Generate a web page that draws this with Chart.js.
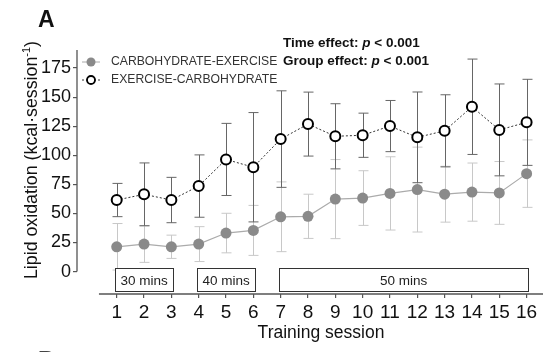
<!DOCTYPE html>
<html>
<head>
<meta charset="utf-8">
<script src="https://cdn.jsdelivr.net/npm/chart.js@4.4.1/dist/chart.umd.min.js"></script>
<style>
  html, body { margin: 0; padding: 0; background: #fff; }
  #wrap { width: 550px; height: 352px; }
</style>
</head>
<body>
<div id="wrap"><canvas id="lipidChart" width="550" height="352" aria-label="Lipid oxidation chart"></canvas></div>
<script>
// sessions and values
const sessions = [1, 2, 3, 4, 5, 6, 7, 8, 9, 10, 11, 12, 13, 14, 15, 16];
const carbExMean = [21.3, 23.6, 21.3, 23.6, 33.1, 35.4, 47.1, 47.5, 62.3, 63.2, 67.2, 70.5, 66.5, 68.3, 67.6, 84.2];
const carbExErr = [20, 15.7, 10, 15, 17, 21.5, 30, 19, 34, 23.5, 31.5, 36.5, 24, 25, 27, 29];
const exCarbMean = [61.5, 66.4, 61.5, 73.5, 96.4, 89.7, 113.9, 126.8, 116.3, 117.2, 125.1, 115.4, 121, 141.7, 121.8, 128.3];
const exCarbErr = [14.3, 27, 19.5, 26.8, 31, 47, 41.5, 27.5, 28, 19, 22, 39, 31, 41, 39.5, 37];
const yTicks = [0, 25, 50, 75, 100, 125, 150, 175];

// training blocks (session ranges)
const phaseLabels = ['30 mins', '40 mins', '50 mins'];
const phaseStart = [1, 4, 7];
const phaseEnd = [3, 6, 16];

const FONT = "'Liberation Sans', Arial, sans-serif";

const extrasPlugin = {
  id: 'extras',
  beforeDatasetsDraw(chart) {
    const ctx = chart.ctx;
    const xs = chart.scales.x, ys = chart.scales.y;
    const drawBars = (means, errs, color) => {
      ctx.save();
      ctx.strokeStyle = color;
      ctx.lineWidth = 1;
      means.forEach((m, i) => {
        const px = Math.round(xs.getPixelForValue(sessions[i])) + 0.5;
        const top = ys.getPixelForValue(m + errs[i]);
        const bot = ys.getPixelForValue(m - errs[i]);
        ctx.beginPath();
        ctx.moveTo(px, top); ctx.lineTo(px, bot);
        ctx.moveTo(px - 5, top); ctx.lineTo(px + 5, top);
        ctx.moveTo(px - 5, bot); ctx.lineTo(px + 5, bot);
        ctx.stroke();
      });
      ctx.restore();
    };
    drawBars(carbExMean, carbExErr, '#c8c8c8');
    drawBars(exCarbMean, exCarbErr, '#666');
  },
  afterDraw(chart) {
    const ctx = chart.ctx;
    const xs = chart.scales.x, ys = chart.scales.y;
    const area = chart.chartArea;
    ctx.save();

    // axis lines (Prism style, offset)
    ctx.strokeStyle = '#555';
    ctx.lineWidth = 1.3;
    ctx.beginPath();
    ctx.moveTo(area.left, ys.getPixelForValue(0));
    ctx.lineTo(area.left, area.top);
    ctx.moveTo(xs.getPixelForValue(0.35), area.bottom);
    ctx.lineTo(area.right, area.bottom);
    ctx.stroke();

    // phase boxes
    ctx.lineWidth = 1;
    ctx.strokeStyle = '#333';
    ctx.font = '13.5px ' + FONT;
    ctx.textAlign = 'center';
    ctx.textBaseline = 'middle';
    const bTop = ys.getPixelForValue(2.7), bBot = ys.getPixelForValue(-17.4);
    phaseLabels.forEach((lab, i) => {
      const l = xs.getPixelForValue(phaseStart[i]) - 1.5;
      const r = xs.getPixelForValue(phaseEnd[i]) + 1.5;
      ctx.fillStyle = '#fff';
      ctx.fillRect(l, bTop, r - l, bBot - bTop);
      ctx.strokeRect(Math.round(l) + 0.5, Math.round(bTop) + 0.5, Math.round(r - l), Math.round(bBot - bTop));
      ctx.fillStyle = '#222';
      ctx.fillText(lab, (l + r) / 2, (bTop + bBot) / 2 + 1);
    });

    // legend
    ctx.textAlign = 'left';
    ctx.font = '12.2px ' + FONT;
    ctx.strokeStyle = '#aaa';
    ctx.lineWidth = 1;
    ctx.beginPath(); ctx.moveTo(82, 62); ctx.lineTo(100, 62); ctx.stroke();
    ctx.fillStyle = '#8a8a8a';
    ctx.beginPath(); ctx.arc(91, 62, 4.5, 0, Math.PI * 2); ctx.fill();
    ctx.strokeStyle = '#333';
    ctx.setLineDash([2, 2]);
    ctx.beginPath(); ctx.moveTo(82, 80); ctx.lineTo(100, 80); ctx.stroke();
    ctx.setLineDash([]);
    ctx.fillStyle = '#fff';
    ctx.strokeStyle = '#000';
    ctx.lineWidth = 1.8;
    ctx.beginPath(); ctx.arc(91, 80, 4, 0, Math.PI * 2); ctx.fill(); ctx.stroke();
    ctx.fillStyle = '#333';
    ctx.fillText('CARBOHYDRATE-EXERCISE', 111, 62);
    ctx.fillText('EXERCISE-CARBOHYDRATE', 111, 80);

    // statistics text
    const stat = (label, y) => {
      let x = 283;
      ctx.fillStyle = '#111';
      ctx.font = 'bold 13.5px ' + FONT;
      ctx.fillText(label, x, y); x += ctx.measureText(label).width;
      ctx.font = 'italic bold 13.5px ' + FONT;
      ctx.fillText('p', x, y); x += ctx.measureText('p').width;
      ctx.font = 'bold 13.5px ' + FONT;
      ctx.fillText(' < 0.001', x, y);
    };
    stat('Time effect: ', 43);
    stat('Group effect: ', 61);

    // panel letters (next panel's letter is cut off at the bottom edge)
    ctx.fillStyle = '#111';
    ctx.font = 'bold 23px ' + FONT;
    ctx.textBaseline = 'alphabetic';
    ctx.fillText('A', 38, 27);
    ctx.fillStyle = '#444';
    ctx.fillText('B', 38, 368);

    // axis titles
    ctx.fillStyle = '#111';
    ctx.font = '17.5px ' + FONT;
    ctx.textAlign = 'center';
    ctx.textBaseline = 'middle';
    ctx.fillText('Training session', 321, 333);

    ctx.translate(37, 160);
    ctx.rotate(-Math.PI / 2);
    ctx.textBaseline = 'alphabetic';
    ctx.textAlign = 'left';
    const main = 'Lipid oxidation (kcal\u00B7session';
    const sup = '-1';
    const close = ')';
    ctx.font = '17.8px ' + FONT;
    const wMain = ctx.measureText(main).width;
    const wClose = ctx.measureText(close).width;
    ctx.font = '11px ' + FONT;
    const wSup = ctx.measureText(sup).width;
    let tx = -(wMain + wSup + wClose) / 2;
    ctx.font = '17.8px ' + FONT;
    ctx.fillText(main, tx, 0); tx += wMain;
    ctx.font = '11px ' + FONT;
    ctx.fillText(sup, tx, -7); tx += wSup;
    ctx.font = '17.8px ' + FONT;
    ctx.fillText(close, tx, 0);

    ctx.restore();
  }
};

new Chart(document.getElementById('lipidChart'), {
  type: 'line',
  data: {
    datasets: [
      {
        label: 'EXERCISE-CARBOHYDRATE',
        data: sessions.map((s, i) => ({ x: s, y: exCarbMean[i] })),
        borderColor: '#333',
        borderWidth: 1,
        borderDash: [2, 2],
        pointRadius: 5,
        pointBackgroundColor: '#fff',
        pointBorderColor: '#000',
        pointBorderWidth: 2,
        tension: 0,
      },
      {
        label: 'CARBOHYDRATE-EXERCISE',
        data: sessions.map((s, i) => ({ x: s, y: carbExMean[i] })),
        borderColor: '#ababab',
        borderWidth: 1.2,
        pointRadius: 5.5,
        pointBackgroundColor: '#8a8a8a',
        pointBorderColor: '#8a8a8a',
        pointBorderWidth: 0,
        tension: 0,
      },
    ]
  },
  options: {
    responsive: false,
    animation: false,
    devicePixelRatio: 1,
    layout: { padding: { left: 0, right: 7, top: 50, bottom: 0 } },
    plugins: {
      legend: { display: false },
      tooltip: { enabled: false },
    },
    scales: {
      x: {
        type: 'linear',
        min: -0.453,
        max: 16.6,
        afterBuildTicks: (scale) => { scale.ticks = sessions.map(v => ({ value: v })); },
        afterFit: (scale) => { scale.height = 58; },
        border: { display: false },
        grid: { drawOnChartArea: false, drawTicks: true, tickLength: 4, color: '#555', lineWidth: 1.2 },
        ticks: { font: { family: FONT, size: 19 }, color: '#111', padding: 3, maxRotation: 0, autoSkip: false },
      },
      y: {
        min: -19.3,
        max: 190.5,
        afterBuildTicks: (scale) => { scale.ticks = yTicks.map(v => ({ value: v })); },
        afterFit: (scale) => { scale.width = 77; },
        border: { display: false },
        grid: { drawOnChartArea: false, drawTicks: true, tickLength: 4, color: '#555', lineWidth: 1.2 },
        ticks: { font: { family: FONT, size: 18 }, color: '#111', padding: 2 },
      },
    }
  },
  plugins: [extrasPlugin]
});
</script>
</body>
</html>
